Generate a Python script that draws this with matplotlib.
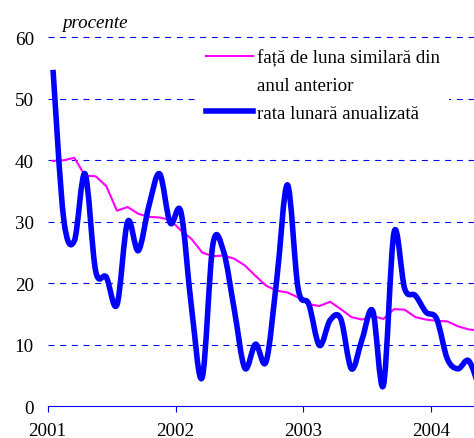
import numpy as np
import matplotlib
matplotlib.use("Agg")
import matplotlib.pyplot as plt
from matplotlib.path import Path
from matplotlib.patches import PathPatch
from matplotlib.lines import Line2D

# date lunare, ian 2001 - mai 2004
ani = ["2001", "2002", "2003", "2004"]
fata_de_an = [39.9, 40.0, 40.4, 37.5, 37.4, 35.8, 31.8, 32.4, 31.3, 30.8, 30.7, 30.3,
              28.6, 27.2, 25.0, 24.4, 24.5, 24.0, 22.9, 21.2, 19.6, 18.8, 18.5, 17.7,
              16.6, 16.3, 17.0, 15.8, 14.5, 14.1, 14.7, 14.2, 15.8, 15.7, 14.5, 14.1,
              13.9, 13.8, 13.0, 12.5, 12.3]
rata_lunara = [54.7, 30.5, 26.9, 37.8, 22.0, 21.0, 16.5, 30.0, 25.3, 32.6, 37.8, 29.8,
               31.6, 16.0, 4.7, 26.3, 25.2, 15.8, 6.2, 10.1, 7.3, 20.7, 36.0, 19.1,
               16.6, 9.9, 14.0, 14.2, 6.1, 10.9, 15.5, 3.4, 28.3, 19.1, 18.0, 15.3,
               14.2, 7.7, 6.1, 7.4, 3.0]

plt.rcParams['font.family'] = ['Liberation Serif', 'DejaVu Serif']
fs = 13.7

fig = plt.figure(figsize=(4.74, 4.39), dpi=100)
ax = fig.add_axes([0.1006, 0.0722, 0.8994, 0.8547])

x = np.arange(len(fata_de_an)) + 0.5
y2 = np.array(rata_lunara)

# grila
for v in range(10, 61, 10):
    ax.axhline(v, color='blue', lw=0.8, ls=(0, (5.4, 5.1)), zorder=0)

l1, = ax.plot(x, fata_de_an, color='#FF00FF', lw=1.5, zorder=2)

# linie netezita (stil Excel) - curbe Bezier intre puncte
pts = np.column_stack([x, y2])
verts = [pts[0]]
codes = [Path.MOVETO]
n = len(pts)
for i in range(n - 1):
    p0 = pts[i - 1] if i > 0 else pts[i]
    p1 = pts[i]
    p2 = pts[i + 1]
    p3 = pts[i + 2] if i + 2 < n else pts[i + 1]
    c1 = p1 + (p2 - p0) / 6.0
    c2 = p2 - (p3 - p1) / 6.0
    verts += [c1, c2, p2]
    codes += [Path.CURVE4] * 3
patch = PathPatch(Path(verts, codes), facecolor='none', edgecolor='#0000FF',
                  lw=4, joinstyle='round', capstyle='butt', zorder=3)
ax.add_patch(patch)

ax.set_xlim(0, 40)
ax.set_ylim(0, 61)
ax.set_yticks(range(0, 61, 10))
ax.set_xticks([0, 12, 24, 36])
ax.set_xticklabels(ani)

for s in ['top', 'right', 'left']:
    ax.spines[s].set_visible(False)
ax.spines['bottom'].set_color('blue')
ax.spines['bottom'].set_linewidth(0.8)
ax.tick_params(axis='y', length=0, pad=10, labelsize=fs)
ax.tick_params(axis='x', length=4, width=0.8, color='blue', direction='out',
               pad=7, labelsize=fs)

blank = Line2D([], [], color='none')
h_blue = Line2D([], [], color='#0000FF', lw=4)
leg = ax.legend([l1, blank, h_blue],
                ['față de luna similară din', 'anul anterior', 'rata lunară anualizată'],
                loc='upper left', bbox_to_anchor=(196 / 474, 1 - 40 / 439),
                bbox_transform=fig.transFigure, borderaxespad=0,
                frameon=True, fancybox=False, framealpha=1, edgecolor='none',
                facecolor='white', fontsize=fs, handlelength=2.5,
                handletextpad=0.2, labelspacing=0.55, borderpad=0.5)
leg.set_zorder(5)

fig.text(62 / 474, 1 - 28 / 439, 'procente', style='italic', fontsize=fs,
         va='baseline', ha='left')

fig.savefig('out.png', dpi=100)
